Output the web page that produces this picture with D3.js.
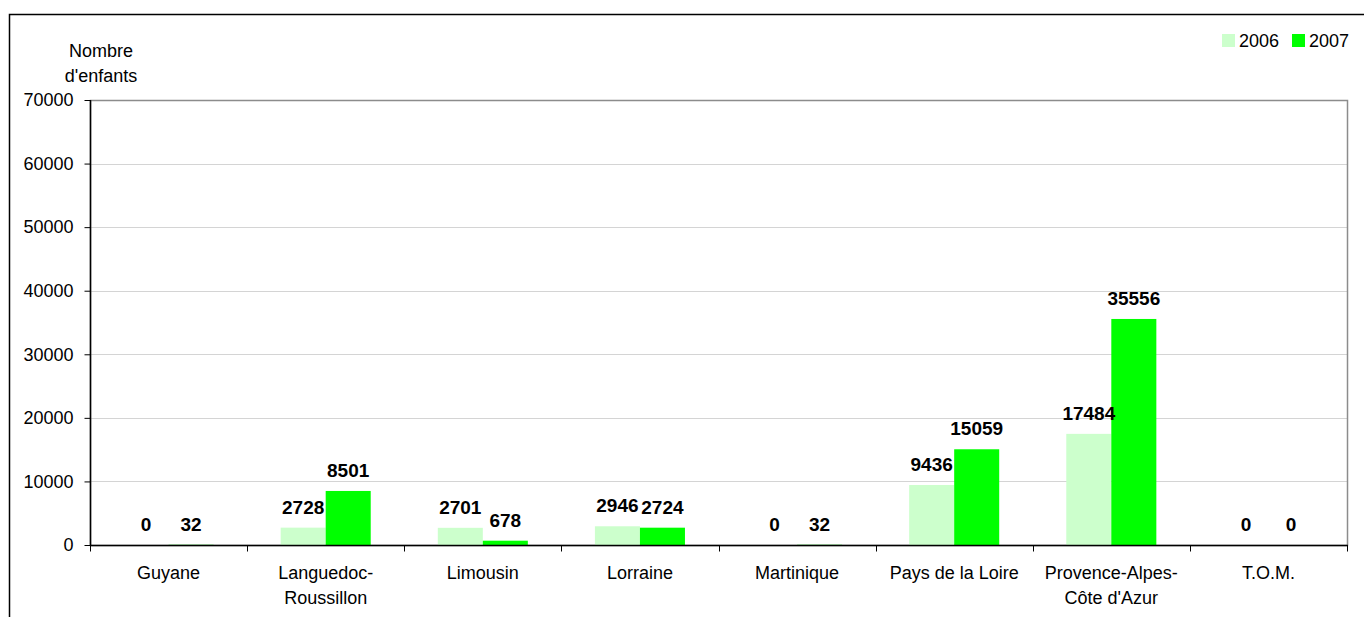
<!DOCTYPE html>
<html>
<head>
<meta charset="utf-8">
<script src="https://cdn.jsdelivr.net/npm/d3@7"></script>
<style>
  body { margin: 0; background: #fff; }
  svg { display: block; font-family: "Liberation Sans", Arial, sans-serif; }
</style>
</head>
<body>
<svg id="canvas" width="1364" height="617"></svg>
<script>
// chart data
var categories = ['Guyane', 'Languedoc-\nRoussillon', 'Limousin', 'Lorraine', 'Martinique',
                  'Pays de la Loire', 'Provence-Alpes-\nCôte d\'Azur', 'T.O.M.'];
var series = ['2006', '2007'];
var values2006 = [0, 2728, 2701, 2946, 0, 9436, 17484, 0];
var values2007 = [32, 8501, 678, 2724, 32, 15059, 35556, 0];
var yTicks = [0, 10000, 20000, 30000, 40000, 50000, 60000, 70000];
var colors = ['#ccffcc', '#00ff00'];

window.onload = function () {
    MakeChart();
}

function MakeChart() {
    var svg = d3.select('#canvas');
    var left = 90, right = 1347, top = 100, bottom = 545;

    // outer frame (cropped at right / bottom like the original)
    svg.append('rect')
        .attr('x', 9.5).attr('y', 14.5)
        .attr('width', 1500).attr('height', 800)
        .attr('fill', 'none').attr('stroke', '#000').attr('stroke-width', 1.5);

    var y = d3.scaleLinear().domain([0, 70000]).range([bottom, top]);
    var x0 = d3.scaleBand().domain(categories).range([left, right]).padding(0);
    var x1 = d3.scaleBand().domain(series).range([0, x0.bandwidth()])
        .paddingInner(0).paddingOuter(0.745);

    // grid lines
    svg.append('g').selectAll('line')
        .data(yTicks.filter(d => d > 0 && d < 70000))
        .join('line')
        .attr('x1', left).attr('x2', right)
        .attr('y1', d => Math.round(y(d)) + 0.5).attr('y2', d => Math.round(y(d)) + 0.5)
        .attr('stroke', '#d4d4d4');

    // plot border
    svg.append('rect')
        .attr('x', left + 0.5).attr('y', top + 0.5)
        .attr('width', right - left).attr('height', bottom - top)
        .attr('fill', 'none').attr('stroke', '#8c8c8c').attr('stroke-width', 1.5);

    // bars
    var rows = categories.map((c, i) => ({ cat: c, vals: [values2006[i], values2007[i]] }));
    var groups = svg.append('g').selectAll('g')
        .data(rows)
        .join('g')
        .attr('transform', d => 'translate(' + x0(d.cat) + ',0)');

    groups.selectAll('rect')
        .data(d => d.vals.map((v, k) => ({ s: series[k], v: v, k: k })))
        .join('rect')
        .attr('x', d => x1(d.s))
        .attr('width', x1.bandwidth())
        .attr('y', d => y(d.v))
        .attr('height', d => bottom - y(d.v))
        .attr('fill', d => colors[d.k]);

    groups.selectAll('text')
        .data(d => d.vals.map((v, k) => ({ s: series[k], v: v })))
        .join('text')
        .attr('x', d => x1(d.s) + x1.bandwidth() / 2)
        .attr('y', d => y(d.v) - 14)
        .attr('text-anchor', 'middle')
        .style('font-size', '19px')
        .style('font-weight', 'bold')
        .text(d => d.v);

    // y axis
    var yAxis = svg.append('g')
        .attr('transform', 'translate(' + (left + 0.5) + ',0)')
        .call(d3.axisLeft(y).tickValues(yTicks).tickSize(6).tickPadding(11).tickFormat(d => d));
    yAxis.select('.domain').attr('stroke', '#000').attr('stroke-width', 1.5).attr('d', 'M0,' + top + 'V' + bottom);
    yAxis.selectAll('text').style('font-size', '18px').style('font-family', '"Liberation Sans", Arial, sans-serif').attr('fill', '#000');

    // x axis
    var xAxis = svg.append('g')
        .attr('transform', 'translate(0,' + (bottom + 0.5) + ')');
    xAxis.append('line')
        .attr('x1', left).attr('x2', right + 1)
        .attr('stroke', '#000').attr('stroke-width', 1.5);
    xAxis.selectAll('line.tick')
        .data(categories.concat(['end']))
        .join('line')
        .attr('class', 'tick')
        .attr('x1', (d, i) => Math.round(left + i * x0.step()) + 0.5)
        .attr('x2', (d, i) => Math.round(left + i * x0.step()) + 0.5)
        .attr('y1', 0).attr('y2', 6)
        .attr('stroke', '#000');
    xAxis.selectAll('text')
        .data(categories)
        .join('text')
        .attr('text-anchor', 'middle')
        .attr('x', d => x0(d) + x0.bandwidth() / 2)
        .attr('y', 33)
        .style('font-size', '18px')
        .selectAll('tspan')
        .data(d => d.split('\n'))
        .join('tspan')
        .attr('x', function () { return d3.select(this.parentNode).attr('x'); })
        .attr('dy', (d, i) => i === 0 ? 0 : 25)
        .text(d => d);

    // axis title
    svg.append('text')
        .attr('x', 101).attr('y', 57)
        .attr('text-anchor', 'middle')
        .style('font-size', '18px')
        .selectAll('tspan')
        .data(['Nombre', 'd\'enfants'])
        .join('tspan')
        .attr('x', 101)
        .attr('dy', (d, i) => i === 0 ? 0 : 25)
        .text(d => d);

    // legend
    var legend = svg.append('g').selectAll('g')
        .data(series)
        .join('g')
        .attr('transform', (d, i) => 'translate(' + (1222 + i * 70) + ',34)');
    legend.append('rect')
        .attr('width', 13).attr('height', 13)
        .attr('fill', (d, i) => colors[i]);
    legend.append('text')
        .attr('x', 17).attr('y', 13)
        .style('font-size', '18px')
        .text(d => d);
}
</script>
</body>
</html>
